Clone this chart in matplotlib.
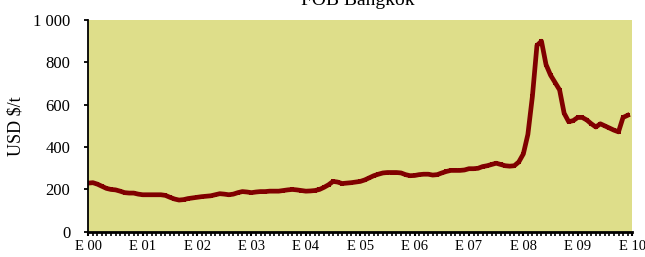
import matplotlib
matplotlib.use('Agg')
import matplotlib.pyplot as plt
import numpy as np
from matplotlib.ticker import FuncFormatter, MultipleLocator

# Monthly FOB Bangkok price, USD/t, Jan 2000 - Dec 2009
p2000 = [230, 232, 225, 215, 205, 200, 198, 192, 185, 183, 183, 178]
p2001 = [175, 175, 175, 175, 175, 172, 163, 155, 150, 152, 157, 160]
p2002 = [163, 166, 168, 170, 175, 180, 178, 175, 178, 185, 190, 188]
p2003 = [185, 188, 190, 190, 192, 192, 192, 195, 198, 200, 198, 195]
p2004 = [192, 193, 195, 200, 210, 222, 238, 235, 228, 230, 232, 235]
p2005 = [238, 245, 255, 265, 272, 278, 280, 280, 280, 278, 270, 265]
p2006 = [266, 270, 272, 272, 268, 270, 278, 285, 290, 290, 290, 292]
p2007 = [298, 298, 300, 308, 312, 318, 324, 318, 312, 310, 312, 330]
p2008 = [368, 460, 640, 880, 900, 790, 740, 705, 670, 560, 520, 525]
p2009 = [540, 540, 528, 510, 495, 510, 500, 490, 480, 472, 540, 550]

prices = p2000 + p2001 + p2002 + p2003 + p2004 + p2005 + p2006 + p2007 + p2008 + p2009
years = ['E 00', 'E 01', 'E 02', 'E 03', 'E 04', 'E 05', 'E 06', 'E 07', 'E 08', 'E 09', 'E 10']

plt.rcParams['font.family'] = ['Liberation Serif', 'DejaVu Serif']

fig = plt.figure(figsize=(6.45, 2.57), dpi=100)
ax = fig.add_axes([0.137, 0.098, 0.843, 0.824])
ax.set_facecolor('#DEDE8A')

x = np.arange(len(prices))
ax.plot(x, prices, color='#800000', linewidth=3.4, marker='s', markersize=3.5,
        markeredgewidth=0)

ax.set_xlim(0, 120)
ax.set_ylim(0, 1000)
ax.set_xticks(np.arange(0, 121, 12))
ax.set_xticklabels(years)
ax.xaxis.set_minor_locator(MultipleLocator(1))
ax.yaxis.set_major_locator(MultipleLocator(200))
ax.yaxis.set_major_formatter(FuncFormatter(lambda v, p: '{:,.0f}'.format(v).replace(',', ' ')))

for s in ['top', 'right']:
    ax.spines[s].set_visible(False)
ax.spines['left'].set_linewidth(1.3)
ax.spines['bottom'].set_linewidth(2)
ax.tick_params(axis='y', labelsize=12, direction='out', length=3, width=1.3, pad=10)
ax.tick_params(axis='x', which='major', labelsize=10.5, direction='out',
               length=3, width=1.5, pad=3)
ax.tick_params(axis='x', which='minor', direction='out', length=3, width=1.2)

ax.set_ylabel('USD $/t', fontsize=13, labelpad=6)
fig.text(358 / 645, 1 - 5 / 257, 'FOB Bangkok', fontsize=14,
         ha='center', va='baseline')

fig.savefig('out.png', dpi=100)
